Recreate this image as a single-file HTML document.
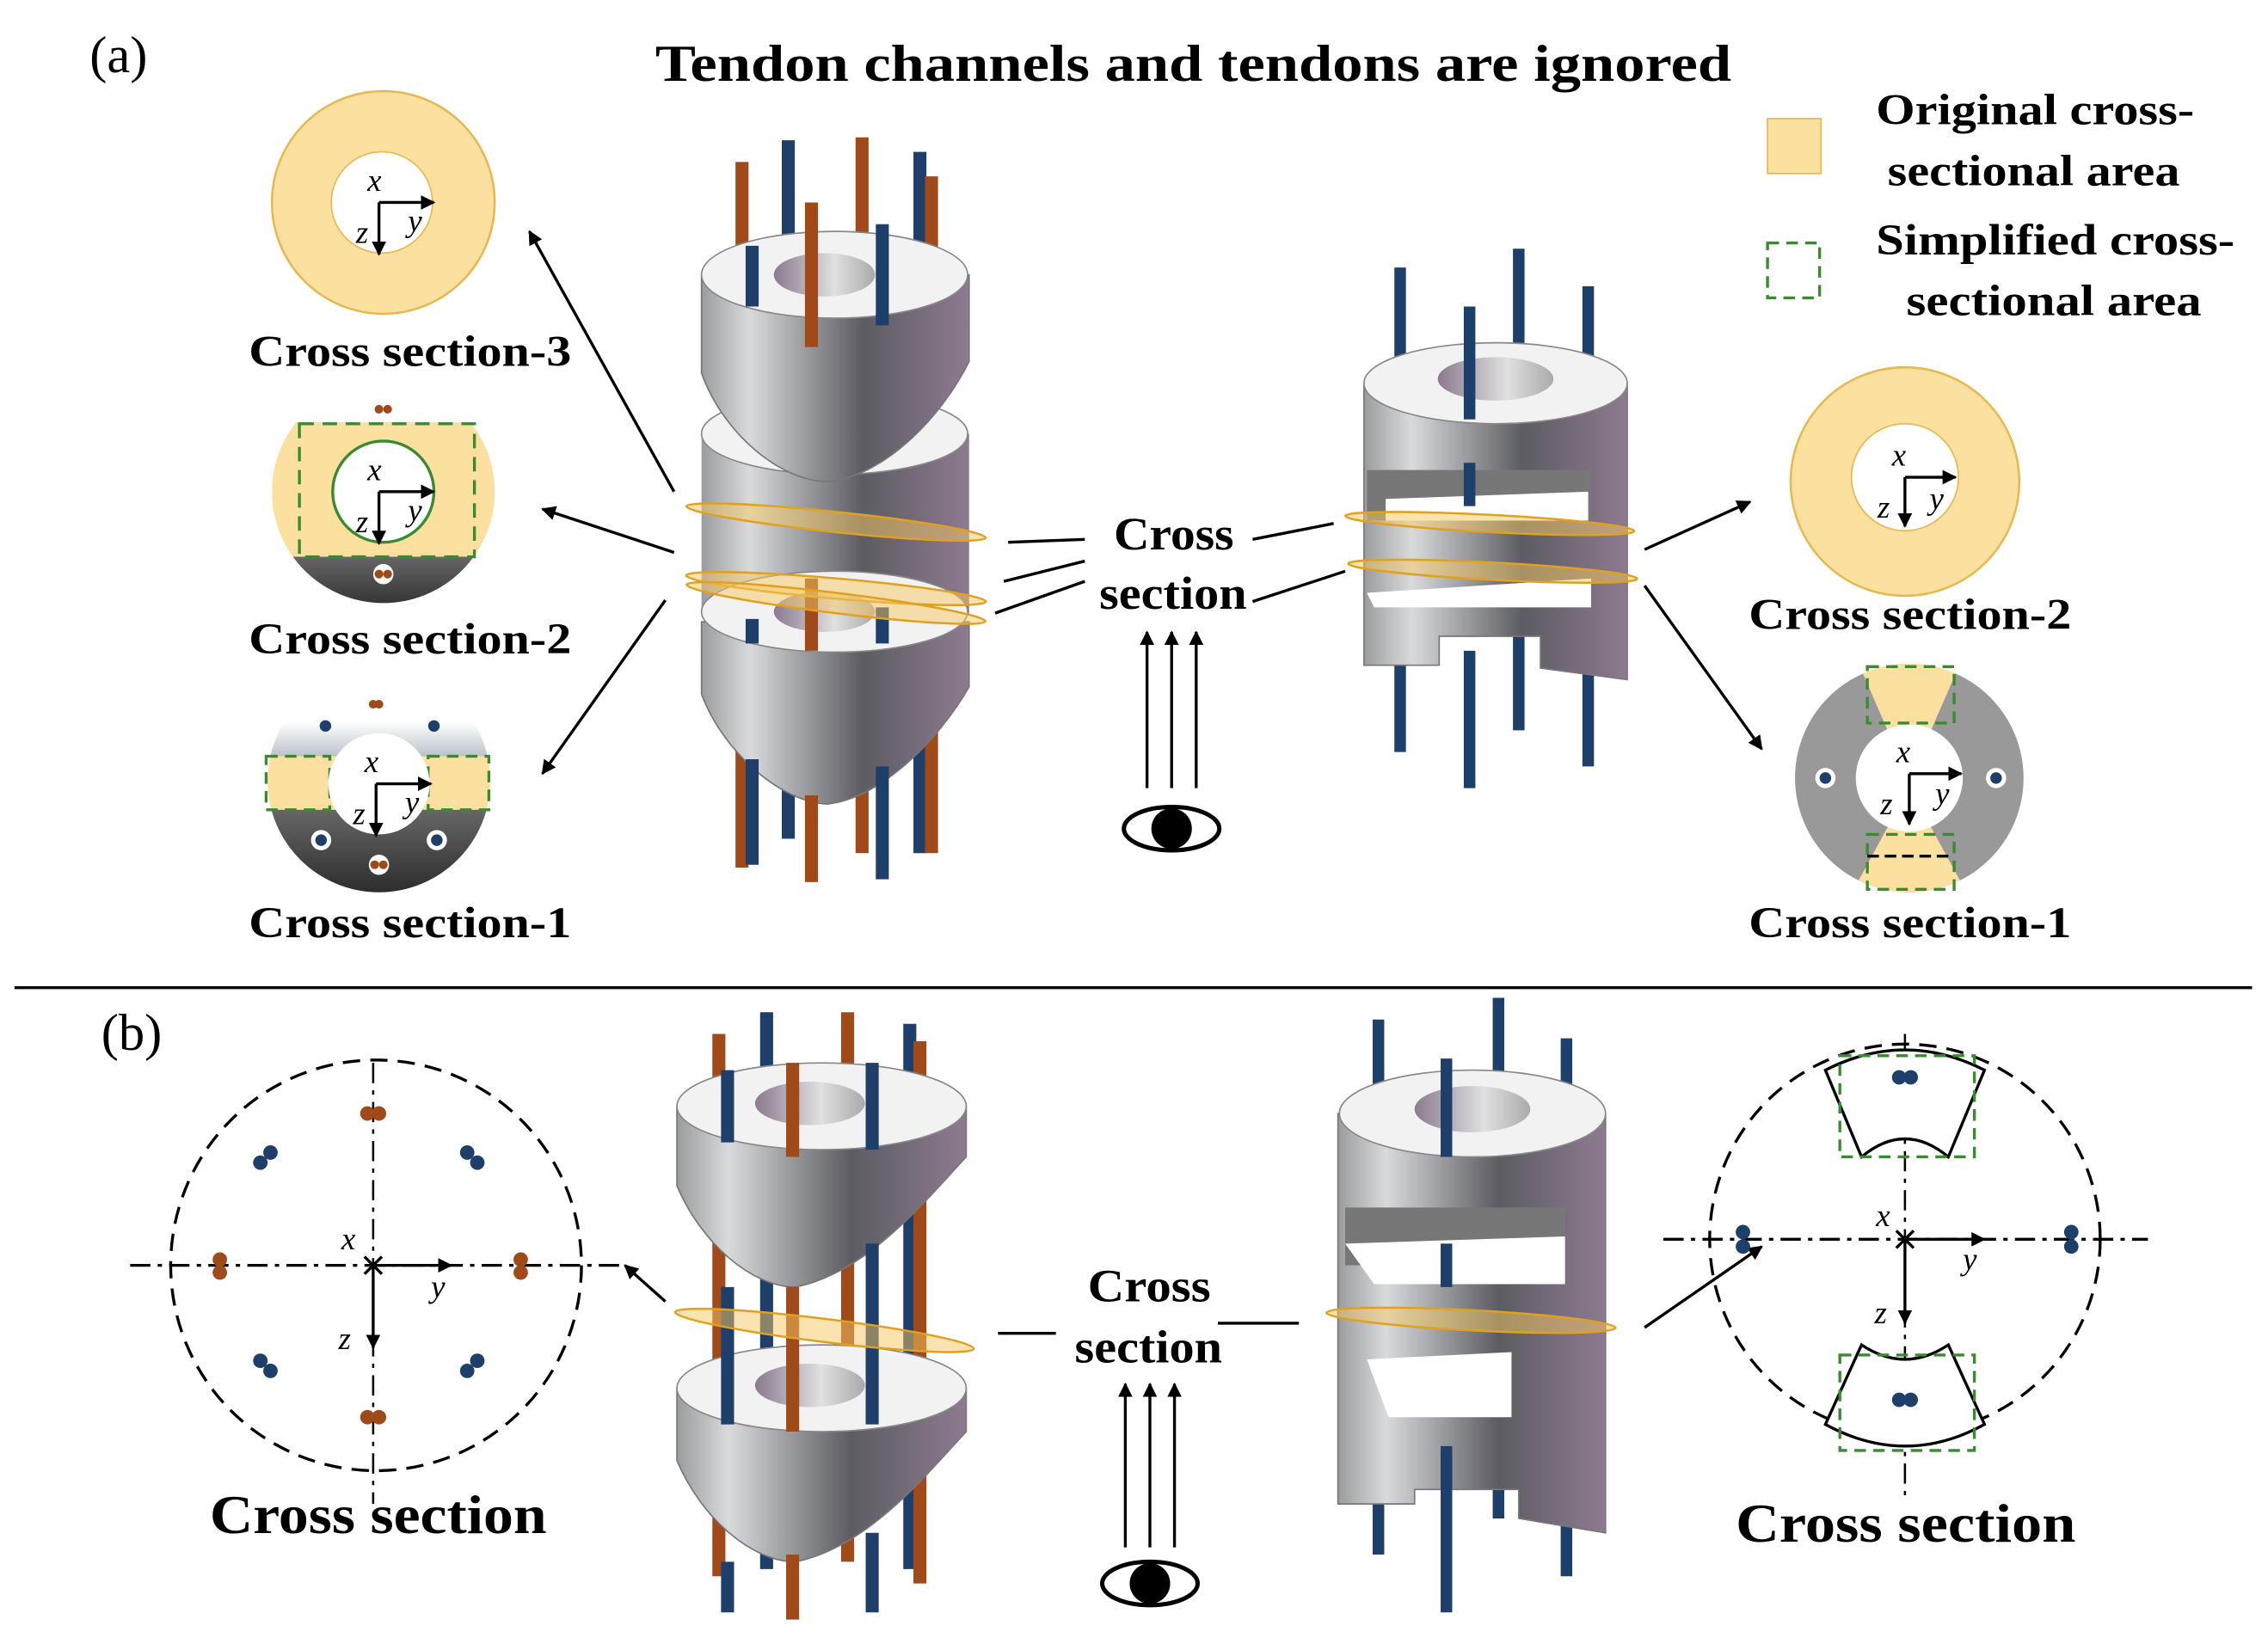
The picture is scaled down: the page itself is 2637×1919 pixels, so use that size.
<!DOCTYPE html>
<html><head><meta charset="utf-8"><style>
html,body{margin:0;padding:0;background:#fff}
svg{display:block}
text{font-family:"Liberation Serif",serif;fill:#000}
.b{font-weight:bold}
</style></head><body>
<svg width="2637" height="1919" viewBox="0 0 1568 1141" preserveAspectRatio="none" xmlns="http://www.w3.org/2000/svg">
<defs>
<linearGradient id="cyl" x1="0" x2="1" y1="0" y2="0">
<stop offset="0" stop-color="#9a9c9e"/><stop offset="0.18" stop-color="#d8dadc"/><stop offset="0.6" stop-color="#5c5c62"/><stop offset="1" stop-color="#8e7a90"/></linearGradient>
<linearGradient id="hole" x1="0" x2="1"><stop offset="0" stop-color="#8a7a8e"/><stop offset="0.6" stop-color="#e0e0e0"/><stop offset="1" stop-color="#aaa"/></linearGradient>
<linearGradient id="dark" x1="0" x2="0" y1="0" y2="1"><stop offset="0" stop-color="#666"/><stop offset="1" stop-color="#2a2a2a"/></linearGradient>
<linearGradient id="lite" x1="0" x2="0" y1="0" y2="1"><stop offset="0" stop-color="#fff"/><stop offset="0.6" stop-color="#fff"/><stop offset="1" stop-color="#b8c0c8"/></linearGradient>
<marker id="ar" markerWidth="10" markerHeight="10" refX="9" refY="5" orient="auto" markerUnits="userSpaceOnUse"><path d="M0,0 L10,5 L0,10 z" fill="#000"/></marker>
<clipPath id="c2"><circle cx="265" cy="340" r="77"/></clipPath>
<clipPath id="c1"><circle cx="262" cy="540" r="77"/></clipPath>
<clipPath id="r1"><circle cx="1320" cy="538" r="79"/></clipPath>
</defs>

<!-- header -->
<text x="62" y="50" font-size="36">(a)</text>
<text x="453" y="56" font-size="36" class="b" textLength="744" lengthAdjust="spacingAndGlyphs">Tendon channels and tendons are ignored</text>
<rect x="1222" y="82" width="37" height="38" fill="#fbe0a0" stroke="#e6b850"/>
<text x="1297" y="86" font-size="30" class="b" textLength="220" lengthAdjust="spacingAndGlyphs">Original cross-</text>
<text x="1305" y="128" font-size="30" class="b" textLength="202" lengthAdjust="spacingAndGlyphs">sectional area</text>
<rect x="1222" y="168" width="36" height="38" fill="none" stroke="#3a8a30" stroke-width="2" stroke-dasharray="8,5"/>
<text x="1297" y="176" font-size="30" class="b" textLength="248" lengthAdjust="spacingAndGlyphs">Simplified cross-</text>
<text x="1318" y="218" font-size="30" class="b" textLength="204" lengthAdjust="spacingAndGlyphs">sectional area</text>

<!-- Left column (a) -->
<g stroke-width="9">
<line x1="513" y1="112" x2="513" y2="600" stroke="#a04a1a"/>
<line x1="545" y1="97" x2="545" y2="580" stroke="#1f3f6b"/>
<line x1="596" y1="95" x2="596" y2="590" stroke="#a04a1a"/>
<line x1="636" y1="105" x2="636" y2="590" stroke="#1f3f6b"/>
<line x1="644" y1="122" x2="644" y2="590" stroke="#a04a1a"/>
</g>
<path d="M485,430 L485,480 C500,520 540,555 572,556 C610,552 650,510 670,475 L670,430 Z" fill="url(#cyl)" stroke="#777"/>
<path d="M485,300 L485,425 L670,425 L670,300 Z" fill="url(#cyl)"/>
<ellipse cx="577" cy="423" rx="92" ry="28" fill="#f2f2f2" stroke="#888"/>
<ellipse cx="570" cy="423" rx="35" ry="14" fill="url(#hole)"/>
<ellipse cx="577" cy="300" rx="92" ry="28" fill="#f2f2f2" stroke="#888"/>
<path d="M485,190 L485,258 C500,300 540,333 572,333 C610,330 650,290 670,250 L670,190 Z" fill="url(#cyl)" stroke="#777"/>
<ellipse cx="577" cy="190" rx="92" ry="30" fill="#f2f2f2" stroke="#888"/>
<ellipse cx="570" cy="190" rx="35" ry="15" fill="url(#hole)"/>
<g stroke-width="9">
<line x1="520" y1="170" x2="520" y2="212" stroke="#1f3f6b"/>
<line x1="561" y1="140" x2="561" y2="240" stroke="#a04a1a"/>
<line x1="610" y1="155" x2="610" y2="225" stroke="#1f3f6b"/>
<line x1="520" y1="428" x2="520" y2="445" stroke="#1f3f6b"/>
<line x1="561" y1="400" x2="561" y2="450" stroke="#a04a1a"/>
<line x1="610" y1="420" x2="610" y2="445" stroke="#1f3f6b"/>
<line x1="520" y1="525" x2="520" y2="598" stroke="#1f3f6b"/>
<line x1="561" y1="550" x2="561" y2="610" stroke="#a04a1a"/>
<line x1="610" y1="530" x2="610" y2="608" stroke="#1f3f6b"/>
</g>
<g fill="#f5c860" fill-opacity="0.5" stroke="#e0a020" stroke-width="1.5">
<ellipse cx="578" cy="361" rx="104" ry="7" transform="rotate(6 578 361)"/>
<ellipse cx="578" cy="407" rx="104" ry="7" transform="rotate(5 578 407)"/>
<ellipse cx="578" cy="417" rx="104" ry="7" transform="rotate(7 578 417)"/>
</g>

<!-- Right column (a) -->
<g stroke-width="8" stroke="#1f3f6b">
<line x1="968" y1="185" x2="968" y2="520"/>
<line x1="1050" y1="172" x2="1050" y2="505"/>
<line x1="1098" y1="198" x2="1098" y2="530"/>
</g>
<path d="M943,265 L943,460 L995,460 L995,440 L1065,440 L1065,462 L1125,470 L1125,265 Z" fill="url(#cyl)" stroke="#777"/>
<path d="M945,325 L1100,325 L1100,360 L945,360 Z" fill="#777"/>
<path d="M958,345 L1098,340 L1098,360 L958,360 Z" fill="#fff"/>
<path d="M945,410 L1100,400 L1100,420 L950,420 Z" fill="#fff"/>
<ellipse cx="1034" cy="265" rx="91" ry="28" fill="#f2f2f2" stroke="#888"/>
<ellipse cx="1034" cy="262" rx="40" ry="15" fill="url(#hole)"/>
<g stroke-width="8" stroke="#1f3f6b">
<line x1="1016" y1="212" x2="1016" y2="290"/>
<line x1="1016" y1="450" x2="1016" y2="545"/>
<line x1="1016" y1="320" x2="1016" y2="350"/>
</g>
<g fill="#f5c860" fill-opacity="0.5" stroke="#e0a020" stroke-width="1.5">
<ellipse cx="1030" cy="362" rx="100" ry="6" transform="rotate(3 1030 362)"/>
<ellipse cx="1032" cy="395" rx="100" ry="6" transform="rotate(3 1032 395)"/>
</g>

<!-- middle labels (a) -->
<text x="770" y="380" font-size="32" class="b" textLength="83" lengthAdjust="spacingAndGlyphs">Cross</text>
<text x="760" y="421" font-size="32" class="b" textLength="102" lengthAdjust="spacingAndGlyphs">section</text>
<g stroke="#000" stroke-width="2">
<line x1="697" y1="375" x2="750" y2="373"/>
<line x1="694" y1="402" x2="750" y2="388"/>
<line x1="688" y1="424" x2="750" y2="402"/>
<line x1="866" y1="373" x2="922" y2="362"/>
<line x1="866" y1="416" x2="930" y2="395"/>
<line x1="793" y1="545" x2="793" y2="437" marker-end="url(#ar)"/>
<line x1="810" y1="545" x2="810" y2="437" marker-end="url(#ar)"/>
<line x1="827" y1="545" x2="827" y2="437" marker-end="url(#ar)"/>
<line x1="466" y1="340" x2="366" y2="160" marker-end="url(#ar)"/>
<line x1="466" y1="382" x2="375" y2="352" marker-end="url(#ar)"/>
<line x1="460" y1="415" x2="375" y2="535" marker-end="url(#ar)"/>
<line x1="1137" y1="380" x2="1210" y2="347" marker-end="url(#ar)"/>
<line x1="1137" y1="405" x2="1218" y2="518" marker-end="url(#ar)"/>
</g>
<ellipse cx="810" cy="573" rx="33" ry="15" fill="#fff" stroke="#000" stroke-width="3"/>
<circle cx="810" cy="573" r="14" fill="#000"/>

<!-- CS3 -->
<circle cx="265" cy="140" r="77" fill="#fbe0a0" stroke="#e6b850" stroke-width="1.5"/>
<circle cx="264" cy="140" r="35" fill="#fff" stroke="#e6b850"/>
<!-- CS2 -->
<g clip-path="url(#c2)">
<rect x="188" y="263" width="154" height="30" fill="#fff"/>
<rect x="188" y="292" width="154" height="94" fill="#fbe0a0"/>
<rect x="188" y="385" width="154" height="40" fill="url(#dark)"/>
</g>
<rect x="207" y="293" width="121" height="92" fill="none" stroke="#3a8a30" stroke-width="2" stroke-dasharray="10,6"/>
<circle cx="265" cy="340" r="35" fill="#fff" stroke="#3a8a30" stroke-width="2"/>
<circle cx="265" cy="283" r="7" fill="#fff"/><circle cx="262" cy="283" r="3" fill="#a04a1a"/><circle cx="268" cy="283" r="3" fill="#a04a1a"/>
<circle cx="265" cy="397" r="7" fill="#fff"/><circle cx="262" cy="397" r="3" fill="#a04a1a"/><circle cx="268" cy="397" r="3" fill="#a04a1a"/>
<!-- CS1 -->
<g clip-path="url(#c1)">
<rect x="184" y="462" width="156" height="62" fill="url(#lite)"/>
<rect x="184" y="523" width="156" height="38" fill="#fbe0a0"/>
<rect x="184" y="560" width="156" height="60" fill="url(#dark)"/>
</g>
<rect x="184" y="523" width="44" height="37" fill="none" stroke="#3a8a30" stroke-width="2" stroke-dasharray="8,5"/>
<rect x="296" y="523" width="42" height="37" fill="none" stroke="#3a8a30" stroke-width="2" stroke-dasharray="8,5"/>
<circle cx="262" cy="542" r="35" fill="#fff"/>
<g><circle cx="262" cy="598" r="7" fill="#fff"/><circle cx="259" cy="598" r="3" fill="#a04a1a"/><circle cx="265" cy="598" r="3" fill="#a04a1a"/>
<circle cx="262" cy="487" r="3" fill="#a04a1a"/><circle cx="258" cy="487" r="3" fill="#a04a1a"/>
<circle cx="222" cy="581" r="7" fill="#fff"/><circle cx="222" cy="581" r="4" fill="#1f3f6b"/>
<circle cx="302" cy="581" r="7" fill="#fff"/><circle cx="302" cy="581" r="4" fill="#1f3f6b"/>
<circle cx="225" cy="502" r="4" fill="#1f3f6b"/><circle cx="300" cy="502" r="4" fill="#1f3f6b"/></g>

<!-- right CS2 / CS1 -->
<circle cx="1317" cy="333" r="79" fill="#fbe0a0" stroke="#e6b850" stroke-width="1.5"/>
<circle cx="1317" cy="330" r="37" fill="#fff" stroke="#e6b850"/>
<g clip-path="url(#r1)">
<rect x="1240" y="458" width="160" height="160" fill="#999"/>
<path d="M1285,459 L1355,459 L1335,505 L1305,505 Z" fill="#fbe0a0"/>
<path d="M1305,572 L1335,572 L1360,618 L1280,618 Z" fill="#fbe0a0"/>
</g>
<rect x="1291" y="461" width="60" height="39" fill="none" stroke="#3a8a30" stroke-width="2" stroke-dasharray="8,5"/>
<rect x="1291" y="577" width="60" height="38" fill="none" stroke="#3a8a30" stroke-width="2" stroke-dasharray="8,5"/>
<line x1="1291" y1="592" x2="1351" y2="592" stroke="#000" stroke-width="2" stroke-dasharray="8,4"/>
<circle cx="1320" cy="538" r="37" fill="#fff"/>
<circle cx="1262" cy="538" r="7" fill="#fff"/><circle cx="1262" cy="538" r="4" fill="#1f3f6b"/>
<circle cx="1380" cy="538" r="7" fill="#fff"/><circle cx="1380" cy="538" r="4" fill="#1f3f6b"/>

<!-- axes in (a) circles -->
<g stroke="#000" stroke-width="2">
<line x1="262" y1="140" x2="300" y2="140" marker-end="url(#ar)"/><line x1="262" y1="140" x2="262" y2="176" marker-end="url(#ar)"/>
<line x1="262" y1="340" x2="300" y2="340" marker-end="url(#ar)"/><line x1="262" y1="340" x2="262" y2="376" marker-end="url(#ar)"/>
<line x1="260" y1="542" x2="298" y2="542" marker-end="url(#ar)"/><line x1="260" y1="542" x2="260" y2="578" marker-end="url(#ar)"/>
<line x1="1317" y1="330" x2="1352" y2="330" marker-end="url(#ar)"/><line x1="1317" y1="330" x2="1317" y2="364" marker-end="url(#ar)"/>
<line x1="1320" y1="535" x2="1356" y2="535" marker-end="url(#ar)"/><line x1="1320" y1="535" x2="1320" y2="570" marker-end="url(#ar)"/>
</g>
<g font-size="22" font-style="italic">
<text x="254" y="132">x</text><text x="282" y="160">y</text><text x="246" y="168">z</text>
<text x="254" y="332">x</text><text x="282" y="360">y</text><text x="246" y="368">z</text>
<text x="252" y="534">x</text><text x="280" y="562">y</text><text x="244" y="570">z</text>
<text x="1308" y="322">x</text><text x="1334" y="352">y</text><text x="1298" y="358">z</text>
<text x="1311" y="527">x</text><text x="1338" y="556">y</text><text x="1300" y="563">z</text>
</g>
<text x="172" y="253" font-size="30" class="b" textLength="223" lengthAdjust="spacingAndGlyphs">Cross section-3</text>
<text x="172" y="452" font-size="30" class="b" textLength="223" lengthAdjust="spacingAndGlyphs">Cross section-2</text>
<text x="172" y="648" font-size="30" class="b" textLength="223" lengthAdjust="spacingAndGlyphs">Cross section-1</text>
<text x="1209" y="435" font-size="30" class="b" textLength="223" lengthAdjust="spacingAndGlyphs">Cross section-2</text>
<text x="1209" y="648" font-size="30" class="b" textLength="223" lengthAdjust="spacingAndGlyphs">Cross section-1</text>

<line x1="10" y1="683" x2="1557" y2="683" stroke="#000" stroke-width="2"/>

<!-- (b) -->
<text x="70" y="726" font-size="36">(b)</text>
<g stroke-width="9">
<line x1="497" y1="715" x2="497" y2="1090" stroke="#a04a1a"/>
<line x1="530" y1="700" x2="530" y2="1085" stroke="#1f3f6b"/>
<line x1="586" y1="700" x2="586" y2="1080" stroke="#a04a1a"/>
<line x1="629" y1="708" x2="629" y2="1085" stroke="#1f3f6b"/>
<line x1="636" y1="720" x2="636" y2="1095" stroke="#a04a1a"/>
</g>
<path d="M468,960 L468,1010 C485,1050 520,1080 550,1080 C600,1070 640,1020 668,990 L668,960 Z" fill="url(#cyl)" stroke="#777"/>
<ellipse cx="568" cy="960" rx="100" ry="30" fill="#f2f2f2" stroke="#888"/>
<ellipse cx="560" cy="958" rx="38" ry="15" fill="url(#hole)"/>
<path d="M468,765 L468,820 C485,860 520,890 550,890 C600,880 640,830 668,800 L668,765 Z" fill="url(#cyl)" stroke="#777"/>
<ellipse cx="568" cy="765" rx="100" ry="30" fill="#f2f2f2" stroke="#888"/>
<ellipse cx="560" cy="763" rx="38" ry="15" fill="url(#hole)"/>
<g stroke-width="9">
<line x1="503" y1="740" x2="503" y2="790" stroke="#1f3f6b"/>
<line x1="548" y1="735" x2="548" y2="800" stroke="#a04a1a"/>
<line x1="603" y1="735" x2="603" y2="795" stroke="#1f3f6b"/>
<line x1="503" y1="890" x2="503" y2="985" stroke="#1f3f6b"/>
<line x1="548" y1="890" x2="548" y2="990" stroke="#a04a1a"/>
<line x1="603" y1="860" x2="603" y2="985" stroke="#1f3f6b"/>
<line x1="503" y1="1080" x2="503" y2="1115" stroke="#1f3f6b"/>
<line x1="548" y1="1075" x2="548" y2="1120" stroke="#a04a1a"/>
<line x1="603" y1="1060" x2="603" y2="1115" stroke="#1f3f6b"/>
</g>
<ellipse cx="570" cy="920" rx="104" ry="8" transform="rotate(7 570 920)" fill="#f5c860" fill-opacity="0.5" stroke="#e0a020" stroke-width="1.5"/>

<g stroke-width="8" stroke="#1f3f6b">
<line x1="953" y1="705" x2="953" y2="1075"/>
<line x1="1036" y1="690" x2="1036" y2="1050"/>
<line x1="1083" y1="718" x2="1083" y2="1090"/>
</g>
<path d="M925,770 L925,1040 L978,1040 L978,1030 L1050,1030 L1050,1050 L1110,1060 L1110,770 Z" fill="url(#cyl)" stroke="#777"/>
<path d="M930,835 L1082,835 L1082,875 L930,875 Z" fill="#777"/>
<path d="M930,860 L1082,855 L1082,888 L950,888 Z" fill="#fff"/>
<path d="M945,940 L1045,935 L1045,980 L960,980 Z" fill="#fff"/>
<ellipse cx="1018" cy="770" rx="92" ry="30" fill="#f2f2f2" stroke="#888"/>
<ellipse cx="1018" cy="767" rx="40" ry="16" fill="url(#hole)"/>
<g stroke-width="8" stroke="#1f3f6b">
<line x1="1000" y1="732" x2="1000" y2="800"/>
<line x1="1000" y1="1000" x2="1000" y2="1115"/>
<line x1="1000" y1="860" x2="1000" y2="890"/>
</g>
<ellipse cx="1017" cy="913" rx="100" ry="7" transform="rotate(3 1017 913)" fill="#f5c860" fill-opacity="0.5" stroke="#e0a020" stroke-width="1.5"/>

<text x="752" y="900" font-size="32" class="b" textLength="85" lengthAdjust="spacingAndGlyphs">Cross</text>
<text x="743" y="942" font-size="32" class="b" textLength="102" lengthAdjust="spacingAndGlyphs">section</text>
<g stroke="#000" stroke-width="2">
<line x1="690" y1="922" x2="730" y2="922"/>
<line x1="842" y1="915" x2="898" y2="915"/>
<line x1="778" y1="1070" x2="778" y2="957" marker-end="url(#ar)"/>
<line x1="795" y1="1070" x2="795" y2="957" marker-end="url(#ar)"/>
<line x1="812" y1="1070" x2="812" y2="957" marker-end="url(#ar)"/>
<line x1="460" y1="900" x2="432" y2="875" marker-end="url(#ar)"/>
<line x1="1137" y1="918" x2="1218" y2="862" marker-end="url(#ar)"/>
</g>
<ellipse cx="795" cy="1095" rx="33" ry="15" fill="#fff" stroke="#000" stroke-width="3"/>
<circle cx="795" cy="1095" r="14" fill="#000"/>

<circle cx="260" cy="875" r="142" fill="none" stroke="#000" stroke-width="2" stroke-dasharray="12,7"/>
<line x1="90" y1="875" x2="430" y2="875" stroke="#000" stroke-width="2" stroke-dasharray="14,5,3,5"/>
<line x1="258" y1="735" x2="258" y2="1040" stroke="#000" stroke-width="1.5" stroke-dasharray="14,5,3,5"/>
<g fill="#a04a1a">
<circle cx="254" cy="770" r="5"/><circle cx="262" cy="770" r="5"/>
<circle cx="254" cy="980" r="5"/><circle cx="262" cy="980" r="5"/>
<circle cx="152" cy="871" r="5"/><circle cx="152" cy="880" r="5"/>
<circle cx="360" cy="871" r="5"/><circle cx="360" cy="880" r="5"/>
</g>
<g fill="#1f3f6b">
<circle cx="180" cy="804" r="5"/><circle cx="187" cy="797" r="5"/>
<circle cx="323" cy="797" r="5"/><circle cx="330" cy="804" r="5"/>
<circle cx="180" cy="941" r="5"/><circle cx="187" cy="948" r="5"/>
<circle cx="323" cy="948" r="5"/><circle cx="330" cy="941" r="5"/>
</g>
<g stroke="#000" stroke-width="2">
<line x1="252" y1="869" x2="264" y2="881"/><line x1="264" y1="869" x2="252" y2="881"/>
<line x1="258" y1="875" x2="312" y2="875" marker-end="url(#ar)"/>
<line x1="258" y1="875" x2="258" y2="932" marker-end="url(#ar)"/>
</g>
<g font-size="22" font-style="italic"><text x="236" y="864">x</text><text x="298" y="897">y</text><text x="234" y="933">z</text></g>
<text x="145" y="1060" font-size="38" class="b" textLength="233" lengthAdjust="spacingAndGlyphs">Cross section</text>

<circle cx="1317" cy="857" r="135" fill="none" stroke="#000" stroke-width="2" stroke-dasharray="12,7"/>
<line x1="1150" y1="857" x2="1485" y2="857" stroke="#000" stroke-width="2" stroke-dasharray="14,5,3,5"/>
<line x1="1317" y1="715" x2="1317" y2="1035" stroke="#000" stroke-width="1.5" stroke-dasharray="14,5,3,5"/>
<path d="M1262,740 L1287,800 Q1317,775 1347,800 L1372,740 Q1317,712 1262,740 Z" fill="#fff" stroke="#000" stroke-width="2"/>
<path d="M1262,985 L1287,930 Q1317,950 1347,930 L1372,985 Q1317,1015 1262,985 Z" fill="#fff" stroke="#000" stroke-width="2"/>
<rect x="1272" y="730" width="93" height="70" fill="none" stroke="#3a8a30" stroke-width="2" stroke-dasharray="8,5"/>
<rect x="1272" y="937" width="93" height="66" fill="none" stroke="#3a8a30" stroke-width="2" stroke-dasharray="8,5"/>
<g fill="#1f3f6b">
<circle cx="1313" cy="745" r="5"/><circle cx="1321" cy="745" r="5"/>
<circle cx="1313" cy="968" r="5"/><circle cx="1321" cy="968" r="5"/>
<circle cx="1205" cy="852" r="5"/><circle cx="1205" cy="862" r="5"/>
<circle cx="1432" cy="852" r="5"/><circle cx="1432" cy="862" r="5"/>
</g>
<g stroke="#000" stroke-width="2">
<line x1="1311" y1="851" x2="1323" y2="863"/><line x1="1323" y1="851" x2="1311" y2="863"/>
<line x1="1317" y1="857" x2="1372" y2="857" marker-end="url(#ar)"/>
<line x1="1317" y1="857" x2="1317" y2="915" marker-end="url(#ar)"/>
</g>
<g font-size="22" font-style="italic"><text x="1297" y="848">x</text><text x="1357" y="878">y</text><text x="1296" y="915">z</text></g>
<text x="1200" y="1066" font-size="38" class="b" textLength="235" lengthAdjust="spacingAndGlyphs">Cross section</text>
</svg>
</body></html>
